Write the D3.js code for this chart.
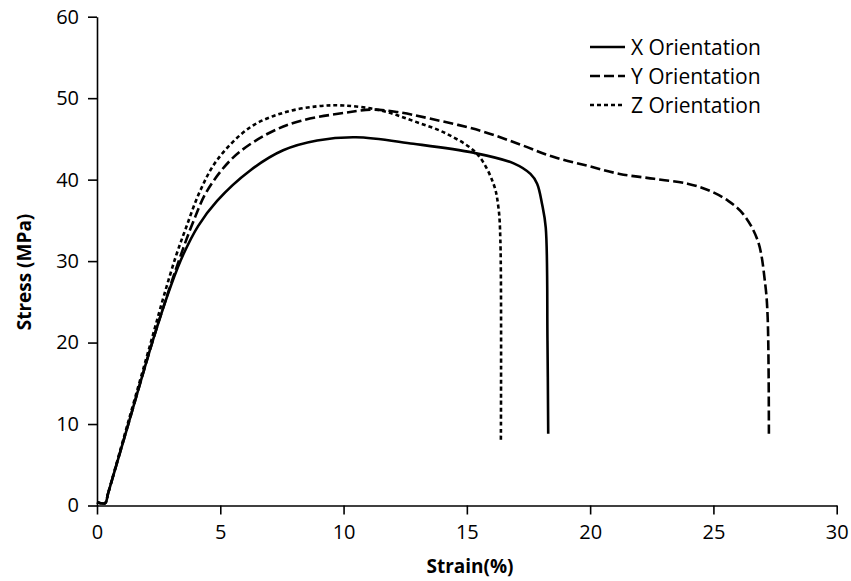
<!DOCTYPE html>
<html>
<head>
<meta charset="utf-8">
<script src="https://cdn.jsdelivr.net/npm/d3@7"></script>
<style>
  body { margin: 0; background: #fff; }
  svg text { font-family: "Open Sans", sans-serif; fill: #000; }
</style>
</head>
<body>
<div id="chart"></div>
<script>
//========================
//   Chart data
//========================
var xStrain = [0, 0.33, 0.45, 1.3, 2.3, 3.0, 3.5, 4.1, 4.87, 6.2, 7.55, 8.93, 10.5, 12.83, 15.27, 16.9, 17.58, 17.85, 18.05, 18.2, 18.27, 18.3];
var xStress = [0.4, 0.3, 1.5, 10.3, 20.6, 27.0, 30.8, 34.3, 37.4, 41.1, 43.6, 44.8, 45.2, 44.4, 43.3, 42.0, 40.7, 39.5, 37.0, 34.1, 20.2, 8.8];

var yStrain = [0, 0.33, 0.45, 1.3, 2.3, 3.0, 3.5, 3.9, 4.46, 5.52, 6.9, 8.24, 10.27, 11.2, 12.18, 13.5, 15.55, 17.17, 18.5, 19.9, 21.2, 22.6, 23.95, 24.8, 25.6, 26.2, 26.8, 27.1, 27.2, 27.25];
var yStress = [0.4, 0.3, 1.5, 10.3, 20.6, 27.2, 31.6, 34.8, 38.6, 42.7, 45.6, 47.2, 48.3, 48.6, 48.3, 47.5, 46.0, 44.3, 42.8, 41.7, 40.7, 40.1, 39.5, 38.7, 37.4, 35.8, 32.5, 27.2, 23.1, 8.8];

var zStrain = [0, 0.33, 0.45, 1.27, 2.2, 2.7, 3.2, 3.6, 4.18, 4.87, 6.2, 7.55, 8.93, 10.0, 11.5, 12.83, 14.2, 15.4, 16.08, 16.28, 16.36, 16.38];
var zStress = [0.4, 0.3, 1.5, 10.3, 20.2, 25.6, 30.6, 34.0, 38.6, 42.4, 46.4, 48.2, 49.0, 49.1, 48.5, 47.2, 45.6, 43.2, 39.5, 36.6, 32.5, 8.0];

var seriesNames = ["X Orientation", "Y Orientation", "Z Orientation"];
var xTicks = [0, 5, 10, 15, 20, 25, 30];
var yTicks = [0, 10, 20, 30, 40, 50, 60];

//========================
//   Layout
//========================
var width = 851, height = 581;
var margin = {top: 16.7, right: 14.3, bottom: 75.5, left: 97};

var svg = d3.select("#chart").append("svg")
  .attr("width", width)
  .attr("height", height);

var x = d3.scaleLinear().domain([0, 30]).range([margin.left, width - margin.right]);
var y = d3.scaleLinear().domain([0, 60]).range([height - margin.bottom, margin.top]);

//Axes
var xAxis = svg.append("g")
  .attr("transform", "translate(0," + y(0) + ")")
  .call(d3.axisBottom(x).tickValues(xTicks).tickSize(9).tickSizeOuter(0).tickPadding(10));

var yAxis = svg.append("g")
  .attr("transform", "translate(" + x(0) + ",0)")
  .call(d3.axisLeft(y).tickValues(yTicks).tickSize(9).tickSizeOuter(0).tickPadding(9));

[xAxis, yAxis].forEach(function(g) {
  g.selectAll("path, line").attr("stroke", "#000").attr("stroke-width", 1.6);
  g.selectAll("text").attr("font-size", 20).attr("font-family", "'Open Sans', sans-serif").attr("fill", "#000");
});

//Axis titles
svg.append("text")
  .attr("x", 470)
  .attr("y", 573)
  .attr("text-anchor", "middle")
  .attr("font-size", 19)
  .attr("font-weight", "bold")
  .text("Strain(%)");

svg.append("text")
  .attr("transform", "translate(31,272) rotate(-90)")
  .attr("text-anchor", "middle")
  .attr("font-size", 19)
  .attr("font-weight", "bold")
  .text("Stress (MPa)");

//========================
//   Curves
//========================
var styles = [
  {dash: null},
  {dash: "10,4"},
  {dash: "4,3"}
];

var series = [
  d3.zip(xStrain, xStress),
  d3.zip(yStrain, yStress),
  d3.zip(zStrain, zStress)
];

var line = d3.line()
  .x(function(d) { return x(d[0]); })
  .y(function(d) { return y(d[1]); })
  .curve(d3.curveCatmullRom.alpha(0.5));

series.forEach(function(pts, i) {
  svg.append("path")
    .datum(pts)
    .attr("d", line)
    .attr("fill", "none")
    .attr("stroke", "#000")
    .attr("stroke-width", 2.6)
    .attr("stroke-dasharray", styles[i].dash);
});

//========================
//   Legend
//========================
var legend = svg.append("g").attr("transform", "translate(590,47)");
seriesNames.forEach(function(name, i) {
  var row = legend.append("g").attr("transform", "translate(0," + (i * 29) + ")");
  row.append("line")
    .attr("x1", 0).attr("x2", 35)
    .attr("stroke", "#000")
    .attr("stroke-width", 2.6)
    .attr("stroke-dasharray", styles[i].dash);
  row.append("text")
    .attr("x", 41)
    .attr("y", 7.5)
    .attr("font-size", 21)
    .text(name);
});
</script>
</body>
</html>
